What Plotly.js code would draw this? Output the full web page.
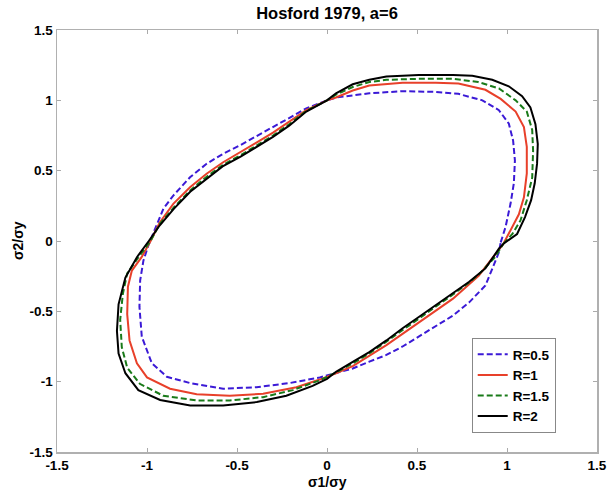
<!DOCTYPE html>
<html>
<head>
<meta charset="utf-8">
<script src="https://cdn.plot.ly/plotly-3.0.1.min.js"></script>
<style>html,body{margin:0;padding:0;background:#fff;}#chart{width:608px;height:492px;}</style>
</head>
<body>
<div id="chart"></div>
<script>
// Series names
const seriesNames = ['R=0.5', 'R=1', 'R=1.5', 'R=2'];

// R = 0.5 (blue dashed)
const r05X = [0.965, 0.992, 1.02, 1.038, 1.044, 1.034, 1.01, 0.955, 0.863, 0.73, 0.605, 0.42, 0.235, 0.05, 0.0,
  -0.115, -0.208, -0.30, -0.392, -0.484, -0.577, -0.669, -0.761, -0.854, -0.909, -0.955, -0.992,
  -1.02, -1.038, -1.042, -1.029, -0.973, -0.89, -0.761, -0.577, -0.392, -0.208, -0.04, 0.02,
  0.143, 0.235, 0.33, 0.42, 0.51, 0.605, 0.70, 0.79, 0.88, 0.918, 0.955, 0.965];
const r05Y = [-0.01, 0.10, 0.268, 0.41, 0.572, 0.714, 0.835, 0.93, 1.0, 1.046, 1.06, 1.065, 1.05, 1.02, 1.0,
  0.943, 0.876, 0.81, 0.74, 0.68, 0.62, 0.549, 0.453, 0.323, 0.23, 0.09, -0.03,
  -0.14, -0.28, -0.467, -0.68, -0.87, -0.965, -1.01, -1.05, -1.04, -1.01, -0.97, -0.95,
  -0.906, -0.858, -0.81, -0.75, -0.68, -0.61, -0.53, -0.436, -0.316, -0.198, -0.08, -0.01];

// R = 1 (red solid)
const r1X = [0.98, 1.02, 1.066, 1.094, 1.11, 1.11, 1.094, 1.048, 0.965, 0.88, 0.73, 0.605, 0.42, 0.235, 0.143, 0.05, 0.0,
  -0.115, -0.208, -0.30, -0.392, -0.484, -0.577, -0.669, -0.761, -0.854, -0.93, -0.98,
  -1.03, -1.084, -1.106, -1.11, -1.097, -1.056, -1.0, -0.872, -0.724, -0.54, -0.355, -0.17, -0.04,
  0.05, 0.143, 0.33, 0.51, 0.70, 0.844, 0.918, 0.98];
const r1Y = [-0.02, 0.075, 0.19, 0.31, 0.48, 0.67, 0.81, 0.92, 1.01, 1.075, 1.12, 1.125, 1.125, 1.105, 1.07, 1.02, 1.0,
  0.93, 0.85, 0.77, 0.70, 0.63, 0.56, 0.478, 0.382, 0.264, 0.13, 0.0,
  -0.115, -0.21, -0.325, -0.52, -0.707, -0.87, -0.97, -1.05, -1.09, -1.10, -1.086, -1.04, -0.985,
  -0.94, -0.89, -0.74, -0.577, -0.41, -0.245, -0.125, -0.02];

// R = 1.5 (green dashed)
const r15X = [0.98, 1.03, 1.075, 1.11, 1.14, 1.145, 1.14, 1.11, 1.048, 0.955, 0.84, 0.70, 0.51, 0.33, 0.235, 0.143, 0.05, 0.0,
  -0.115, -0.21, -0.30, -0.39, -0.48, -0.58, -0.67, -0.76, -0.85, -0.93, -0.98,
  -1.05, -1.11, -1.134, -1.149, -1.14, -1.11, -1.04, -0.91, -0.724, -0.54, -0.355, -0.19, -0.04,
  0.05, 0.143, 0.235, 0.33, 0.42, 0.51, 0.605, 0.70, 0.79, 0.844, 0.93, 0.98];
const r15Y = [-0.02, 0.05, 0.146, 0.29, 0.45, 0.64, 0.79, 0.92, 1.0, 1.085, 1.13, 1.153, 1.153, 1.146, 1.13, 1.095, 1.04, 1.0,
  0.925, 0.83, 0.75, 0.68, 0.61, 0.54, 0.455, 0.36, 0.24, 0.12, 0.0,
  -0.12, -0.23, -0.375, -0.56, -0.755, -0.90, -1.015, -1.10, -1.134, -1.134, -1.11, -1.06, -0.99,
  -0.935, -0.87, -0.80, -0.715, -0.635, -0.55, -0.465, -0.38, -0.295, -0.237, -0.12, -0.02];

// R = 2 (black solid)
const r2X = [0.98, 1.056, 1.10, 1.134, 1.154, 1.167, 1.171, 1.158, 1.13, 1.084, 1.01, 0.918, 0.807, 0.70, 0.51, 0.33, 0.235, 0.143, 0.05, 0.0,
  -0.115, -0.21, -0.30, -0.39, -0.48, -0.58, -0.67, -0.76, -0.85, -0.93, -0.99,
  -1.056, -1.12, -1.158, -1.167, -1.158, -1.12, -1.048, -0.927, -0.76, -0.577, -0.39, -0.226, -0.08, 0.0,
  0.05, 0.143, 0.235, 0.33, 0.42, 0.51, 0.605, 0.70, 0.79, 0.88, 0.955, 0.98];
const r2Y = [-0.02, 0.05, 0.17, 0.29, 0.41, 0.55, 0.69, 0.83, 0.95, 1.03, 1.10, 1.146, 1.174, 1.18, 1.18, 1.17, 1.146, 1.114, 1.05, 1.0,
  0.92, 0.82, 0.74, 0.67, 0.60, 0.53, 0.44, 0.35, 0.23, 0.11, 0.0,
  -0.115, -0.26, -0.45, -0.64, -0.80, -0.94, -1.06, -1.13, -1.17, -1.17, -1.145, -1.10, -1.03, -0.98,
  -0.93, -0.86, -0.79, -0.707, -0.62, -0.54, -0.455, -0.37, -0.29, -0.195, -0.055, -0.02];

// Tick labels
const tickVals = [-1.5, -1, -0.5, 0, 0.5, 1, 1.5];
const tickText = ['-1.5', '-1', '-0.5', '0', '0.5', '1', '1.5'];

const FONT = 'Liberation Sans, Arial, Helvetica, sans-serif';

const traces = [
  {x: r05X, y: r05Y, name: seriesNames[0], mode: 'lines', line: {color: '#3b1ad6', width: 2, dash: '6px,3px'}},
  {x: r1X, y: r1Y, name: seriesNames[1], mode: 'lines', line: {color: '#e8402a', width: 2}},
  {x: r15X, y: r15Y, name: seriesNames[2], mode: 'lines', line: {color: '#197a19', width: 2, dash: '6px,3px'}},
  {x: r2X, y: r2Y, name: seriesNames[3], mode: 'lines', line: {color: '#000000', width: 2}}
];

const axisCommon = {
  range: [-1.5, 1.5],
  tickvals: tickVals,
  ticktext: tickText,
  ticks: 'inside',
  ticklen: 4,
  tickcolor: '#aaaaaa',
  showline: true,
  mirror: 'ticks',
  linecolor: '#b0b0b0',
  linewidth: 1.5,
  showgrid: false,
  zeroline: false,
  tickfont: {family: FONT, size: 13.5, color: '#000', weight: 'bold'}
};

const titleFont = {family: FONT, size: 14, color: '#000', weight: 'bold'};

const layout = {
  width: 608,
  height: 492,
  margin: {l: 57, r: 11, t: 30, b: 40, pad: 0},
  paper_bgcolor: '#ffffff',
  plot_bgcolor: '#ffffff',
  title: {
    text: 'Hosford 1979, a=6',
    font: {family: FONT, size: 16.5, color: '#000', weight: 'bold'},
    x: 0.5, xref: 'paper', xanchor: 'center',
    y: 0.974, yref: 'container', yanchor: 'middle'
  },
  xaxis: Object.assign({}, axisCommon),
  yaxis: Object.assign({}, axisCommon),
  annotations: [
    {text: 'σ1/σy', xref: 'paper', yref: 'paper', x: 0.5, y: -0.072,
     xanchor: 'center', yanchor: 'middle', showarrow: false, font: titleFont},
    {text: 'σ2/σy', xref: 'paper', yref: 'paper', x: 0, xshift: -39, y: 0.5,
     xanchor: 'center', yanchor: 'middle', textangle: -90, showarrow: false, font: titleFont}
  ],
  showlegend: true,
  legend: {
    x: 0.768, y: 0.27, xanchor: 'left', yanchor: 'top',
    bgcolor: '#ffffff', bordercolor: '#888888', borderwidth: 1,
    font: {family: FONT, size: 13.5, color: '#000', weight: 'bold'},
    tracegroupgap: 0
  }
};

Plotly.newPlot('chart', traces, layout, {staticPlot: true, displayModeBar: false});
</script>
</body>
</html>
